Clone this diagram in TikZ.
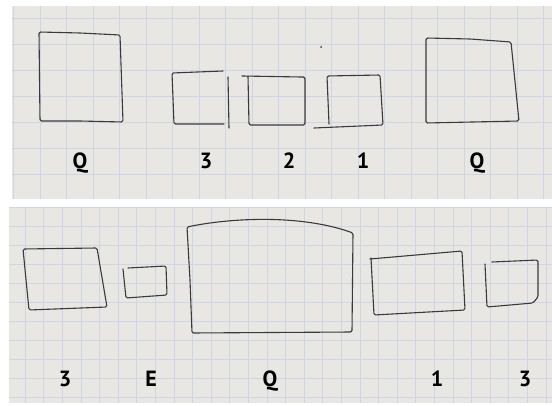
\documentclass[tikz,border=0pt]{standalone}
\usepackage{fontspec}
\setmainfont{PT Sans}
\usepackage{tikz}
\usetikzlibrary{positioning}
\definecolor{paperc}{RGB}{232,231,228}
\definecolor{gridc}{RGB}{207,213,225}
\definecolor{penc}{RGB}{58,58,60}
\tikzset{
  paper/.style={fill=paperc, draw=none},
  gridline/.style={draw=gridc, line width=0.6pt},
  sketch/.style={draw=penc, line width=1.1pt, line join=round, line cap=round, rounded corners=1.5pt},
  lbl/.style={font=\fontsize{22}{24}\selectfont\bfseries, text=black, inner sep=0pt, anchor=base},
}

\begin{document}
\begin{tikzpicture}[x=1pt, y=-1pt]
  \useasboundingbox (0,0) rectangle (552,406);

  % paper, upper photo
  \fill[paper] (12,6) rectangle (552,199);
  \begin{scope}
    \clip (12,6) rectangle (552,199);
    \foreach \x in {13.5,40,...,552} \draw[gridline] (\x,6) -- (\x,199);
    \foreach \y in {18,44,...,199} \draw[gridline] (12,\y) -- (552,\y);
  \end{scope}

  % paper, lower photo
  \fill[paper] (9,207) rectangle (552,403);
  \begin{scope}
    \clip (9,207) rectangle (552,403);
    \foreach \x in {6.4,25,...,552} \draw[gridline] (\x,207) -- (\x,403);
    \foreach \y in {207,226,...,403} \draw[gridline] (9,\y) -- (552,\y);
  \end{scope}

  % upper row of boxes
  \draw[sketch] (39,32) -- (80,33) -- (120,35) -- (123,122) -- (80,121) -- (40,121) -- cycle;
  \draw[sketch] (223,71) -- (172,73) -- (174,124) -- (224,124);
  \draw[sketch] (228,77) -- (229,128);
  \draw[sketch] (242,76) -- (301,77) -- (305,77) -- (305,125) -- (249,125) -- (248,76);
  \draw[sketch] (329,124) -- (327,76) -- (380,75) -- (383,125) -- (314,128);
  \draw[sketch] (426,38) -- (470,39) -- (511,42) -- (519,121) -- (426,123) -- cycle;
  \fill[penc] (321,47) circle (1pt);

  % upper labels
  \node[lbl] (q1) at (80,169) {Q};
  \node[lbl] (n3a) at (206,169) {3};
  \node[lbl] (n2) at (289,169) {2};
  \node[lbl] (n1a) at (363,169) {1};
  \node[lbl] (q2) at (477,169) {Q};

  % lower row of boxes
  \draw[sketch] (23,249) -- (97,248) -- (107,307) -- (29,310) -- cycle;
  \draw[sketch] (123,269) -- (126,298) -- (167,295) -- (166,266) -- (128,268);
  \draw[sketch] (187,227) .. controls (230,218) and (300,214) .. (353,233)
    -- (352,332) -- (192,333) -- (190,280) -- cycle;
  \draw[sketch] (370,259) -- (462,251) -- (465,310) -- (374,315) -- (371,258);
  \draw[sketch] (485,264) -- (487,307) -- (533,303) -- (538,297) -- (538,260) -- (492,262);

  % lower labels
  \node[lbl] (n3b) at (65,386) {3};
  \node[lbl] (e) at (151,386) {E};
  \node[lbl] (q3) at (270,386) {Q};
  \node[lbl] (n1b) at (437,386) {1};
  \node[lbl] (n3c) at (525,386) {3};
\end{tikzpicture}
\end{document}
